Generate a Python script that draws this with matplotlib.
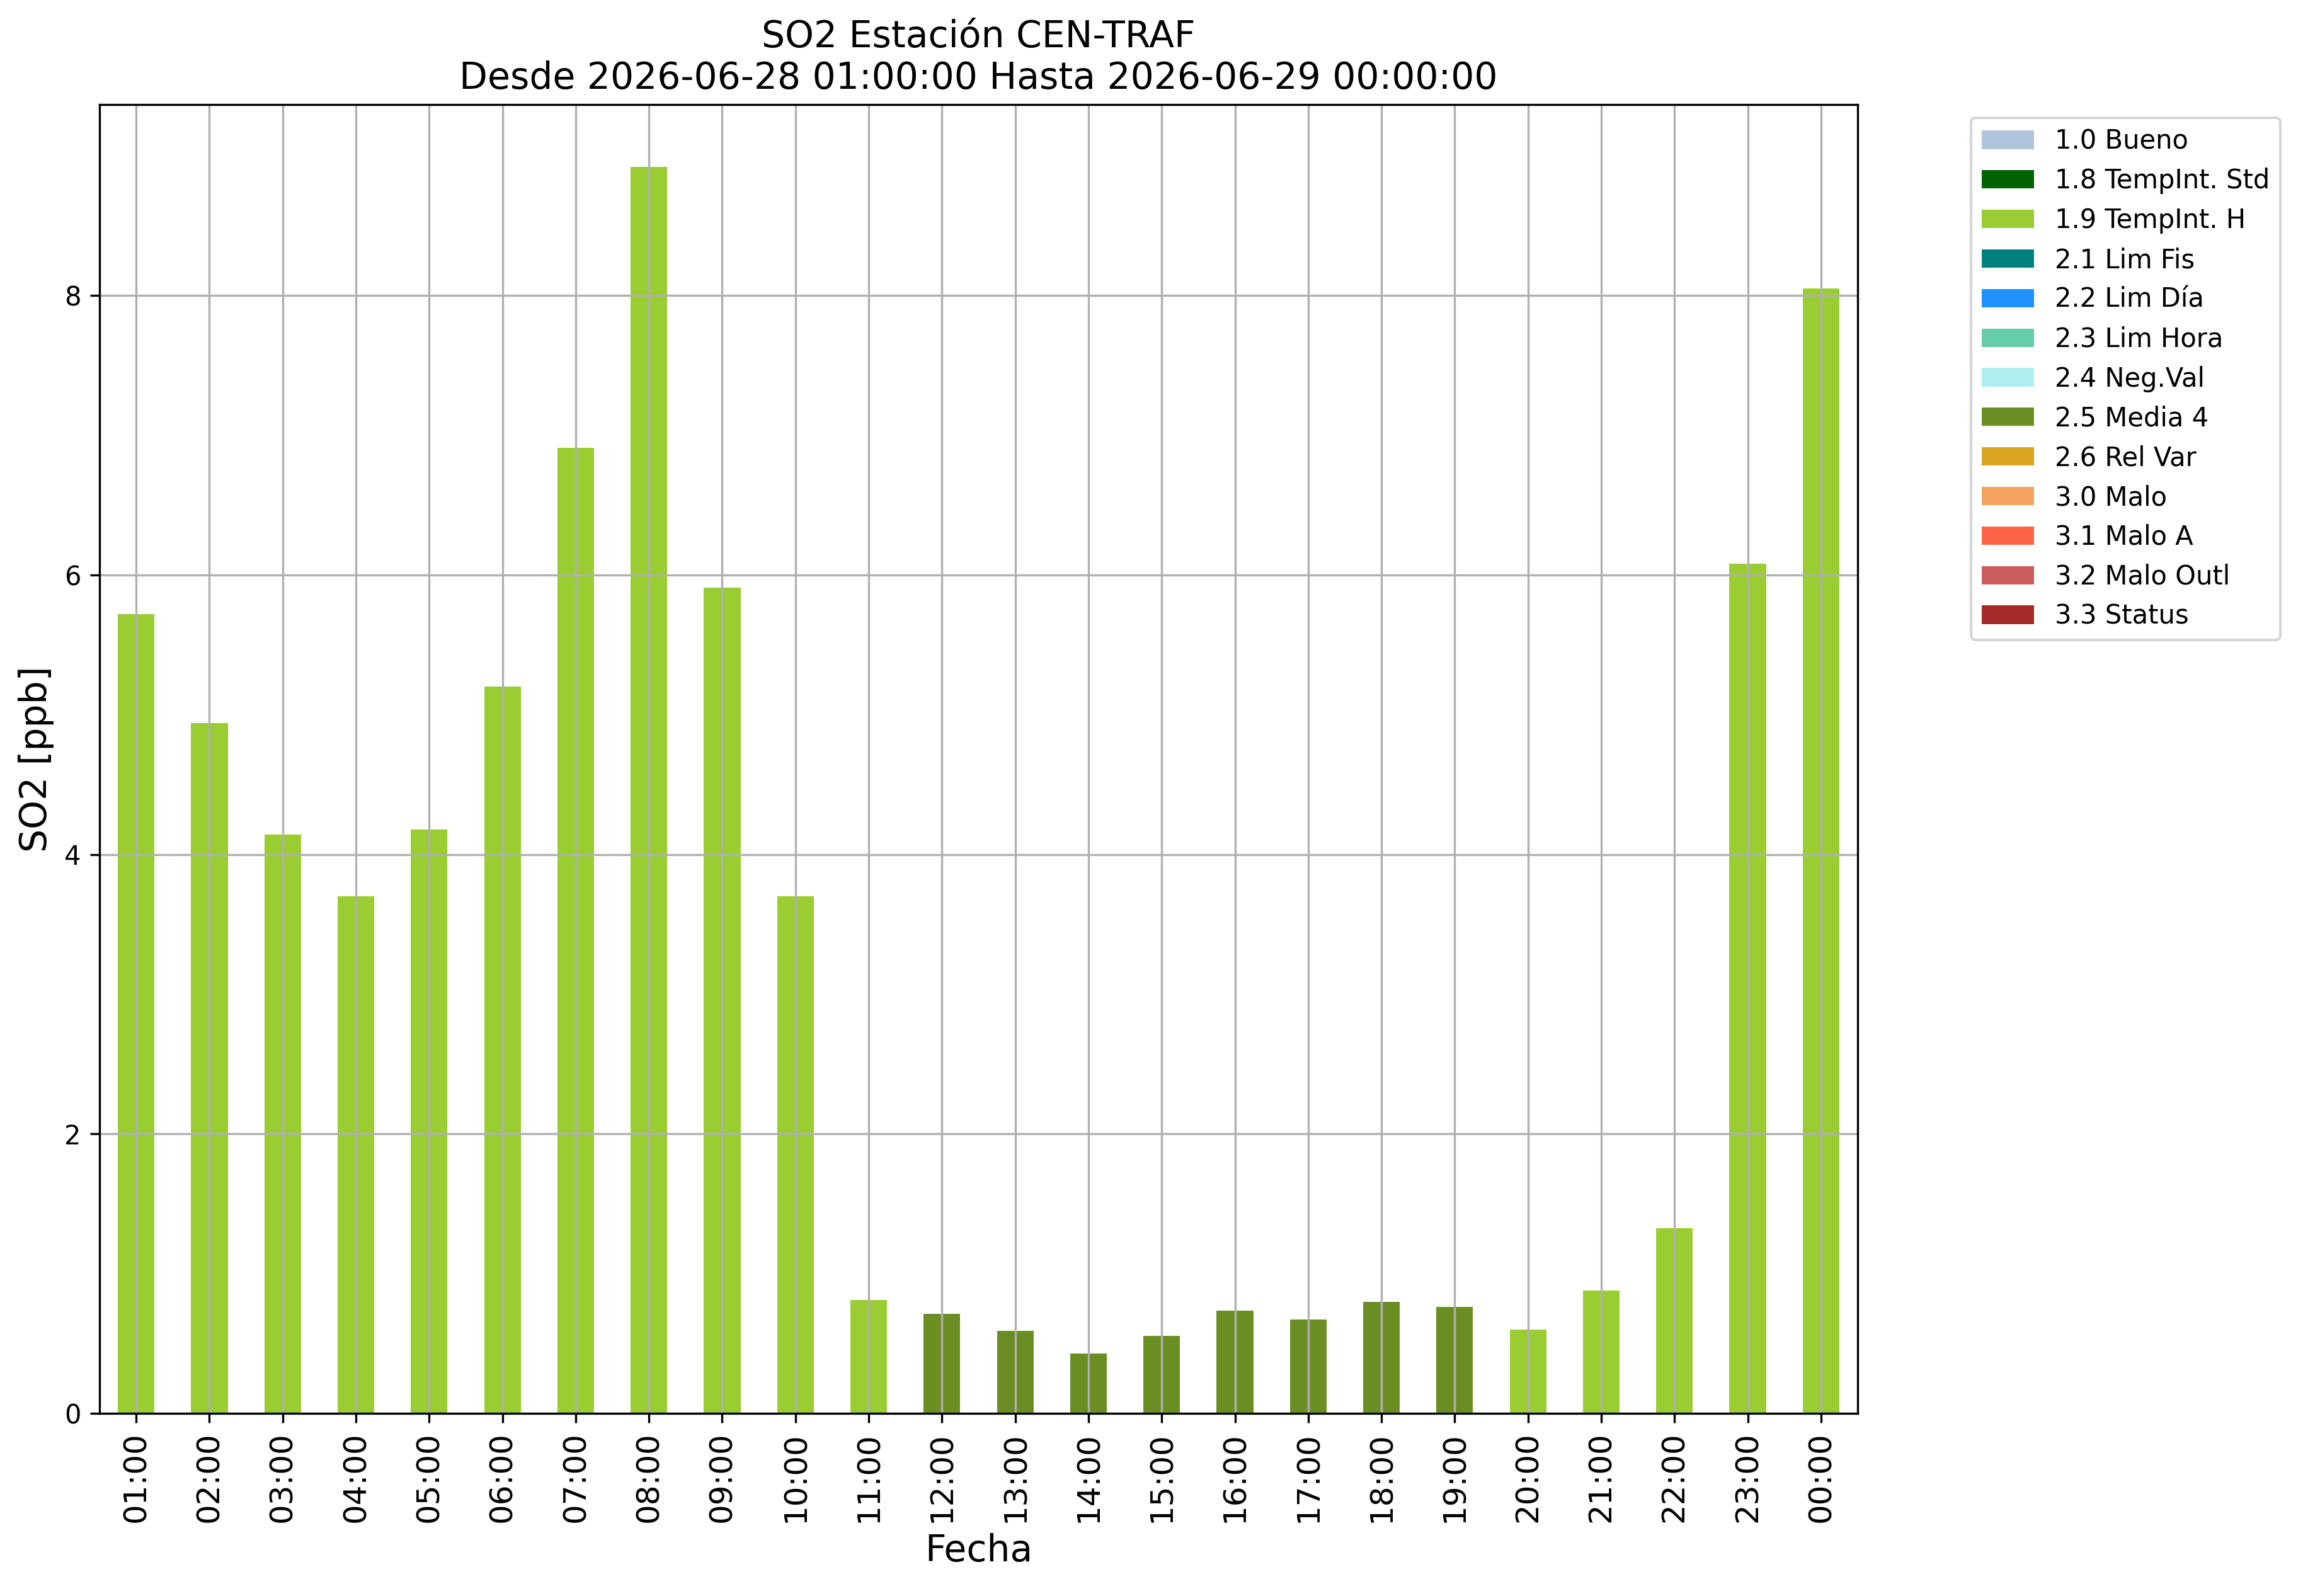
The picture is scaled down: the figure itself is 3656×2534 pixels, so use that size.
import numpy as np
import pandas as pd
import matplotlib
matplotlib.use("Agg")
import matplotlib.pyplot as plt

# hourly SO2 values and the validation flag of each hour
HOURS = ["01:00", "02:00", "03:00", "04:00", "05:00", "06:00", "07:00", "08:00",
         "09:00", "10:00", "11:00", "12:00", "13:00", "14:00", "15:00", "16:00",
         "17:00", "18:00", "19:00", "20:00", "21:00", "22:00", "23:00", "00:00"]
SO2 = [5.72, 4.94, 4.14, 3.70, 4.18, 5.20, 6.91, 8.92,
       5.91, 3.70, 0.81, 0.71, 0.59, 0.43, 0.555, 0.735,
       0.67, 0.80, 0.76, 0.60, 0.88, 1.325, 6.08, 8.05]
FLAG = ["1.9 TempInt. H"] * 11 + ["2.5 Media 4"] * 8 + ["1.9 TempInt. H"] * 5

FLAGS = ["1.0 Bueno", "1.8 TempInt. Std", "1.9 TempInt. H", "2.1 Lim Fis",
         "2.2 Lim Día", "2.3 Lim Hora", "2.4 Neg.Val", "2.5 Media 4",
         "2.6 Rel Var", "3.0 Malo", "3.1 Malo A", "3.2 Malo Outl", "3.3 Status"]
COLORS = ["lightsteelblue", "darkgreen", "yellowgreen", "teal",
          "dodgerblue", "mediumaquamarine", "paleturquoise", "olivedrab",
          "goldenrod", "sandybrown", "tomato", "indianred", "brown"]

# one column per flag, value only where the hour carries that flag
df = pd.DataFrame(0.0, index=HOURS, columns=FLAGS)
for h, v, f in zip(HOURS, SO2, FLAG):
    df.loc[h, f] = v

fig = plt.figure(figsize=(3656 / 300, 2534 / 300), dpi=300)
ax = fig.add_axes([0.04322, 0.11444, 0.76340, 0.82005])

df.plot(kind="bar", stacked=True, width=0.5, color=COLORS, ax=ax, legend=False)
ax.grid(True, color="#b0b0b0", linewidth=0.8)

ax.set_title("SO2 Estación CEN-TRAF\nDesde 2026-06-28 01:00:00 Hasta 2026-06-29 00:00:00",
             fontsize=14)
ax.set_xlabel("Fecha", fontsize=14)
ax.set_ylabel("SO2 [ppb]", fontsize=14)
ax.set_xticklabels(HOURS, rotation=90, fontsize=12)
ax.set_yticks([0, 2, 4, 6, 8])
ax.tick_params(axis="y", labelsize=10)

ax.legend(loc="upper left", bbox_to_anchor=(1.057, 1), fontsize=10)

fig.savefig("out.png", dpi=300, facecolor="white")
plt.close()
